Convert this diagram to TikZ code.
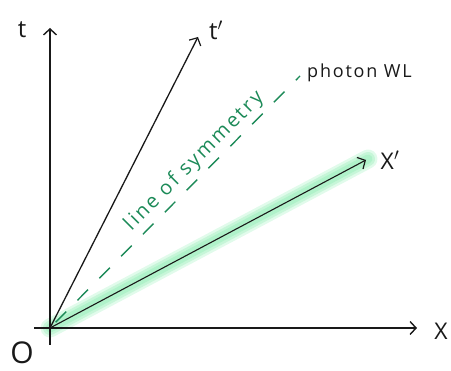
\documentclass[tikz,border=0pt]{standalone}
\usepackage{fontspec}
\setmainfont{Open Sans}
\usetikzlibrary{arrows.meta}
\definecolor{symgreen}{RGB}{28,138,88}
\definecolor{glowout}{RGB}{225,251,235}
\definecolor{glowmid}{RGB}{198,246,216}
\definecolor{glowin}{RGB}{176,242,202}
\definecolor{inkc}{RGB}{25,25,25}
\begin{document}
\begin{tikzpicture}[x=1pt,y=1pt,
  axis/.style={draw=inkc, line width=1.9pt, -{Straight Barb[length=6pt,width=13pt,line width=1.4pt]}},
  frame/.style={draw=inkc, line width=1.3pt, -{Straight Barb[length=6pt,width=13pt,line width=1.2pt]}},
  lbl/.style={text=inkc, inner sep=0pt, font=\fontsize{24}{26}\selectfont},
  glow/.style={line cap=round, line width=#1}]
\useasboundingbox (0,0) rectangle (451,371);
\coordinate (O) at (50,43);
\coordinate (xs) at (34,43);
\coordinate (xe) at (417,43);
\coordinate (ts) at (50,26);
\coordinate (te) at (50,343);
\coordinate (tpe) at (198,334);
\coordinate (xpe) at (366,211);
\coordinate (xpg) at (368,212);
\coordinate (phe) at (300,295);
% glow
\draw[glow=19pt, glowout] (O) -- (xpg);
\draw[glow=14pt, glowmid] (O) -- (xpg);
\draw[glow=9pt, glowin] (O) -- (xpg);
% axes
\draw[axis] (xs) -- (xe);
\draw[axis] (ts) -- (te);
\draw[frame] (O) -- (tpe);
\draw[frame, line width=1.1pt] (O) -- (xpe);
% photon line
\draw[symgreen, line width=1.4pt, dash pattern=on 15pt off 16pt, dash phase=-8pt] (O) -- (phe);
% labels
\node[lbl] (tl) at (22,341) {t};
\node[lbl] (tpl) at (216,341) {t$'$};
\node[lbl, font=\fontsize{23}{25}\selectfont] (xl) at (441,40) {X};
\node[lbl, font=\fontsize{23}{25}\selectfont] (xpl) at (390,211) {X$'$};
\node[lbl, font=\fontsize{30}{32}\selectfont] (ol) at (22,18) {O};
\node[text=inkc, inner sep=0pt, anchor=base west, font=\fontsize{18}{20}\selectfont\addfontfeature{LetterSpace=10}] (ph) at (307,293) {photon WL};
\node[text=symgreen, inner sep=0pt, rotate=45, anchor=base, font=\fontsize{20}{22}\selectfont\addfontfeature{LetterSpace=12}] (sym) at (198,206) {line of symmetry};
\end{tikzpicture}
\end{document}
